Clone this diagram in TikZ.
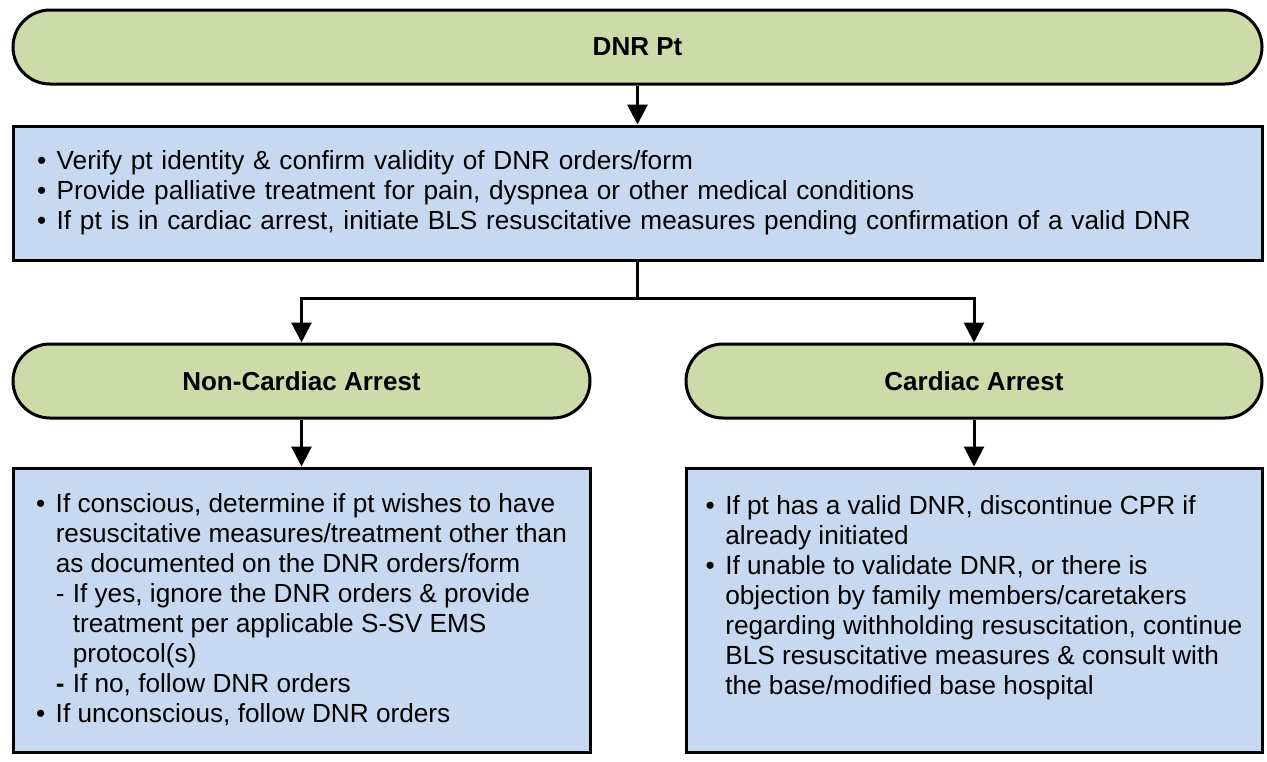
\documentclass[tikz,border=0pt]{standalone}
\usepackage{fontspec}
\setmainfont{Liberation Sans}
\usetikzlibrary{arrows.meta}

\definecolor{termgreen}{RGB}{205,219,168}
\definecolor{boxblue}{RGB}{198,217,240}

\newcommand{\bul}{\makebox[0.75em][l]{\textbullet}}
\newcommand{\ind}{\hspace*{0.75em}}
\newcommand{\dsh}{\makebox[0.65em][l]{-}}
\newcommand{\subind}{\hspace*{1.4em}}

\begin{document}
\begin{tikzpicture}[x=0.5pt,y=-0.5pt]

    \tikzset{termstyle/.style={draw,line width=1.5pt,fill=termgreen,rounded corners=18.5pt,minimum height=37pt,font=\bfseries\fontsize{13pt}{15pt}\selectfont}}
    \tikzset{boxstyle/.style={draw,line width=1.5pt,fill=boxblue,align=left,font=\fontsize{13.1pt}{15pt}\selectfont}}
    \useasboundingbox (0,0) rectangle (1267,761);

    \node[termstyle,minimum width=624.5pt] (dnr) at (637.5,47) {DNR Pt};
    \node[boxstyle,minimum width=624.5pt,minimum height=67pt,text width=600.5pt,inner xsep=12pt] (verify) at (637.5,193)
        {\bul Verify pt identity \& confirm validity of DNR orders/form\\
         \bul Provide palliative treatment for pain, dyspnea or other medical conditions\\
         \bul If pt is in cardiac arrest, initiate BLS resuscitative measures pending confirmation of a valid DNR};
    \coordinate (split) at (637.5,298);

    \node[termstyle,minimum width=288.5pt] (nonca) at (301.5,381) {Non-Cardiac Arrest};
    \node[termstyle,minimum width=288pt] (ca) at (974,381) {Cardiac Arrest};

    \node[boxstyle,minimum width=288.5pt,minimum height=142pt] (ncbox) at (301.5,610)
        {\bul If conscious, determine if pt wishes to have\\
         \ind resuscitative measures/treatment other than\\
         \ind as documented on the DNR orders/form\\
         \ind\dsh If yes, ignore the DNR orders \& provide\\
         \subind treatment per applicable S-SV EMS\\
         \subind protocol(s)\\
         \ind\makebox[0.65em][l]{\textbf{-}}If no, follow DNR orders\\
         \bul If unconscious, follow DNR orders};
    \node[boxstyle,minimum width=288pt,minimum height=142pt] (cbox) at (974,610)
        {\bul If pt has a valid DNR, discontinue CPR if\\
         \ind already initiated\\
         \bul If unable to validate DNR, or there is\\
         \ind objection by family members/caretakers\\
         \ind regarding withholding resuscitation, continue\\
         \ind BLS resuscitative measures \& consult with\\
         \ind the base/modified base hospital\\
         ~};

    \begin{scope}[every path/.style={-{Triangle[length=10pt,width=10pt]},line width=1.5pt}]
        \draw (dnr) -- (verify);
        \draw[-] (verify) -- (split);
        \draw (split) -| (nonca.north);
        \draw (split) -| (ca.north);
        \draw (nonca) -- (ncbox);
        \draw (ca) -- (cbox);
    \end{scope}
\end{tikzpicture}
\end{document}
